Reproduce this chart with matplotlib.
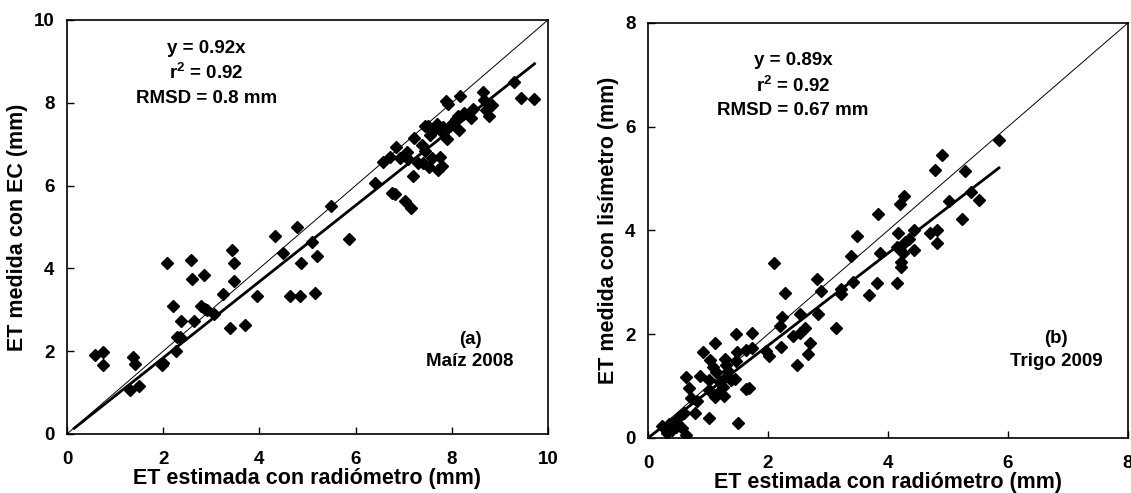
import numpy as np
import matplotlib.pyplot as plt

plt.rcParams['font.family'] = ['Liberation Sans', 'DejaVu Sans']
plt.rcParams['font.weight'] = 'bold'
plt.rcParams['mathtext.fontset'] = 'custom'
plt.rcParams['mathtext.rm'] = 'Liberation Sans:bold'
plt.rcParams['mathtext.it'] = 'Liberation Sans:bold'
plt.rcParams['mathtext.bf'] = 'Liberation Sans:bold'

# panel (a): maize 2008
maiz_x = [0.58, 0.75, 0.75, 1.37, 1.42, 1.31, 1.49, 1.97, 1.99, 2.08, 2.21, 2.27, 2.29, 2.36,
          2.38, 2.57, 2.61, 2.64, 2.85, 2.79, 2.86, 2.92, 3.05, 3.24, 3.39, 3.44, 3.48, 3.48,
          3.71, 3.95, 4.33, 4.50, 4.63, 4.78, 4.85, 4.87, 5.09, 5.15, 5.19, 5.48, 5.87, 6.40,
          6.58, 6.71, 6.75, 6.81, 6.84, 6.92, 7.03, 7.07, 7.10, 7.15, 7.19, 7.21, 7.29, 7.38,
          7.41, 7.45, 7.51, 7.53, 7.55, 7.59, 7.64, 7.69, 7.71, 7.75, 7.79, 7.81, 7.82, 7.88,
          7.90, 7.96, 8.03, 8.08, 8.12, 8.16, 8.18, 8.25, 8.40, 8.45, 8.64, 8.66, 8.71, 8.77,
          8.83, 9.29, 9.44, 9.70, 7.45, 7.92]
maiz_y = [1.91, 1.98, 1.66, 1.87, 1.70, 1.07, 1.17, 1.66, 1.71, 4.13, 3.10, 2.00, 2.34, 2.34,
          2.74, 4.21, 3.74, 2.74, 3.85, 3.08, 3.02, 3.00, 2.90, 3.39, 2.56, 4.45, 4.13, 3.70,
          2.64, 3.34, 4.79, 4.37, 3.34, 5.00, 3.34, 4.13, 4.63, 3.40, 4.30, 5.51, 4.71, 6.07,
          6.56, 6.70, 5.82, 5.80, 6.94, 6.66, 5.62, 6.82, 6.64, 5.45, 6.24, 7.16, 6.54, 6.97,
          6.54, 6.84, 7.43, 6.46, 7.21, 6.66, 7.35, 7.49, 6.38, 6.70, 6.48, 7.26, 7.41, 8.05,
          7.12, 7.43, 7.51, 7.60, 7.67, 7.35, 8.17, 7.75, 7.63, 7.85, 8.27, 8.07, 7.83, 7.68,
          7.95, 8.51, 8.11, 8.09, 7.43, 7.98]

# panel (b): wheat 2009
trigo_x = [5.85, 4.90, 4.79, 5.28, 5.38, 5.52, 5.02, 5.24, 4.26, 4.20, 3.83, 4.17, 4.44, 4.70,
           4.82, 4.81, 3.49, 4.15, 4.28, 4.35, 4.25, 4.43, 4.22, 4.22, 3.86, 3.38, 2.10, 3.41,
           3.82, 4.15, 3.69, 2.82, 2.88, 3.21, 3.22, 2.29, 2.23, 2.20, 2.53, 2.83, 2.21, 2.42,
           2.54, 2.62, 2.70, 2.66, 2.48, 3.14, 1.96, 2.02, 1.73, 1.46, 1.73, 1.63, 1.49, 1.46,
           1.69, 1.64, 1.50, 1.11, 0.92, 1.04, 1.08, 1.28, 0.87, 0.64, 0.69, 0.72, 0.81, 0.79,
           1.01, 1.02, 1.11, 1.17, 1.25, 1.31, 1.34, 1.39, 1.45, 1.27, 1.20, 1.02, 0.54, 0.60,
           0.46, 0.63, 0.29, 0.24, 0.32, 0.40, 0.46, 0.57, 0.35, 1.14, 1.30]
trigo_y = [5.75, 5.45, 5.16, 5.14, 4.75, 4.59, 4.57, 4.23, 4.67, 4.51, 4.31, 3.96, 4.01, 3.96,
           4.01, 3.75, 3.89, 3.69, 3.78, 3.83, 3.56, 3.62, 3.40, 3.30, 3.56, 3.51, 3.37, 3.00,
           2.98, 2.98, 2.76, 3.06, 2.84, 2.78, 2.87, 2.79, 2.34, 2.15, 2.39, 2.39, 1.75, 1.97,
           2.02, 2.12, 1.84, 1.62, 1.41, 2.12, 1.67, 1.58, 2.03, 2.01, 1.73, 1.70, 1.65, 1.49,
           0.97, 0.94, 0.29, 1.84, 1.65, 1.51, 1.36, 1.53, 1.20, 1.17, 0.97, 0.78, 0.71, 0.49,
           1.12, 0.93, 0.79, 0.87, 0.99, 1.20, 1.30, 1.11, 1.14, 0.80, 1.07, 0.38, 0.43, 0.48,
           0.29, 0.06, 0.19, 0.24, 0.10, 0.15, 0.22, 0.19, 0.26, 1.28, 1.41]

panels = [
    dict(x=maiz_x, y=maiz_y, slope=0.92, fit_range=(0.15, 9.72), lim=10,
         ylabel='ET medida con EC (mm)', stats=['y = 0.92x', 'r$^{2}$ = 0.92', 'RMSD = 0.8 mm'],
         stats_pos=(2.9, [9.32, 8.71, 8.11]), tag=['(a)', 'Maíz 2008'], tag_pos=(8.38, [2.28, 1.75]),
         rect=[0.0592, 0.1197, 0.4253, 0.8398]),
    dict(x=trigo_x, y=trigo_y, slope=0.89, fit_range=(0.0, 5.85), lim=8,
         ylabel='ET medida con lisímetro (mm)', stats=['y = 0.89x', 'r$^{2}$ = 0.92', 'RMSD = 0.67 mm'],
         stats_pos=(2.42, [7.28, 6.78, 6.31]), tag=['(b)', 'Trigo 2009'], tag_pos=(6.8, [1.92, 1.48]),
         rect=[0.5729, 0.1116, 0.4244, 0.8418]),
]

fig = plt.figure(figsize=(11.31, 4.93), dpi=100)

for p in panels:
    ax = fig.add_axes(p['rect'])
    lim = p['lim']
    ax.plot([0, lim], [0, lim], color='black', lw=0.7)
    t = np.array(p['fit_range'])
    ax.plot(t, p['slope'] * t, color='black', lw=2)
    ax.plot(p['x'], p['y'], 'D', color='black', ms=6.3, mec='black')
    ax.set_xlim(0, lim)
    ax.set_ylim(0, lim)
    ax.set_xticks(np.arange(0, lim + 1, 2))
    ax.set_yticks(np.arange(0, lim + 1, 2))
    ax.tick_params(direction='in', length=5, width=1, labelsize=13.5)
    ax.tick_params(axis='x', pad=12)
    ax.tick_params(axis='y', pad=9)
    for s in ax.spines.values():
        s.set_linewidth(1.2)
    ax.set_xlabel('ET estimada con radiómetro (mm)', fontsize=15.5, fontweight='bold', labelpad=0)
    ax.set_ylabel(p['ylabel'], fontsize=15.5, fontweight='bold', labelpad=4)
    sx, sys_ = p['stats_pos']
    for txt, yy in zip(p['stats'], sys_):
        ax.text(sx, yy, txt, ha='center', va='center', fontsize=13.5, fontweight='bold')
    tx, tys = p['tag_pos']
    for txt, yy in zip(p['tag'], tys):
        ax.text(tx, yy, txt, ha='center', va='center', fontsize=13.5, fontweight='bold')

fig.savefig('out.png', dpi=100)
